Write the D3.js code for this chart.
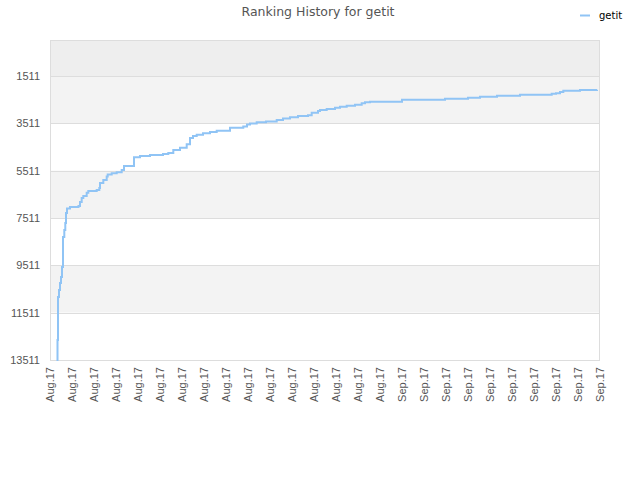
<!DOCTYPE html>
<html><head><meta charset="utf-8">
<script src="https://cdn.jsdelivr.net/npm/d3@7"></script>
<style>body{margin:0;background:#fff}</style>
</head><body>
<svg id="c" width="640" height="480"></svg>
<script>
const seriesName = "getit";
const xLabels = ["Aug.17","Aug.17","Aug.17","Aug.17","Aug.17","Aug.17","Aug.17","Aug.17","Aug.17","Aug.17","Aug.17","Aug.17","Aug.17","Aug.17","Aug.17","Aug.17",
  "Sep.17","Sep.17","Sep.17","Sep.17","Sep.17","Sep.17","Sep.17","Sep.17","Sep.17","Sep.17"];
const yTicks = [1511,3511,5511,7511,9511,11511,13511];
// time position (in label steps) and rank
const times = [0.295,0.341,0.364,0.409,0.455,0.5,0.545,0.591,0.65,0.695,0.727,0.773,0.909,1.295,1.364,1.441,1.514,1.668,1.741,2.123,2.241,2.273,2.423,2.577,2.623,2.805,3.032,3.259,3.364,3.818,4.091,4.545,5.136,5.377,5.605,5.909,6.214,6.364,6.5,6.668,6.955,7.273,7.577,8.182,8.786,8.955,9.091,9.395,9.818,10.305,10.591,10.909,11.273,11.727,11.895,12.182,12.273,12.577,12.955,13.182,13.486,13.864,14.168,14.318,14.545,16,17.955,19,19.545,20.318,21.364,22.805,23,23.182,23.332,24.091,24.864];
const ranks = [13511,12666,10849,10553,10258,10004,9582,8314,8018,7722,7300,7110,7046,7004,6835,6666,6581,6442,6370,6328,6243,6032,5905,5758,5673,5622,5580,5483,5314,4946,4891,4849,4807,4765,4638,4541,4397,4131,4046,3991,3932,3877,3822,3696,3645,3560,3518,3467,3434,3370,3307,3256,3201,3172,3062,2990,2948,2905,2850,2808,2766,2724,2665,2622,2601,2512,2470,2428,2386,2343,2301,2263,2238,2187,2132,2103,2090];

const svg = d3.select("#c");
const L = 50, R = 600, T = 40, B = 360;
const x = d3.scaleLinear().domain([0, xLabels.length - 1]).range([L, R]);
const y = d3.scaleLinear().domain([-11, 13511]).range([T, B]);

// bands
const bandEdges = [y.domain()[0], ...yTicks];
for (let i = 0; i < bandEdges.length - 1; i++) {
  const fill = i === 0 ? "#eeeeee" : (i % 2 === 1 ? "#f3f3f3" : "#ffffff");
  svg.append("rect").attr("x", L).attr("width", R - L)
    .attr("y", y(bandEdges[i])).attr("height", y(bandEdges[i + 1]) - y(bandEdges[i]))
    .attr("fill", fill);
}
// grid lines
svg.append("g").selectAll("line").data(yTicks).join("line")
  .attr("x1", L).attr("x2", R).attr("y1", d => Math.round(y(d)) + 0.5).attr("y2", d => Math.round(y(d)) + 0.5)
  .attr("stroke", "#dddddd").attr("stroke-width", 1);
// border
svg.append("rect").attr("x", L + 0.5).attr("y", T + 0.5).attr("width", R - L - 1).attr("height", B - T)
  .attr("fill", "none").attr("stroke", "#dddddd");

// y axis
const yAxis = d3.axisLeft(y).tickValues(yTicks).tickFormat(d3.format("d")).tickSize(0).tickPadding(10);
const gy = svg.append("g").attr("transform", `translate(${L},0)`).call(yAxis);
gy.select(".domain").remove();
gy.selectAll("text").attr("font-family", "Liberation Sans, Arial, sans-serif").attr("font-size", 11).attr("fill", "#555");

// x axis
const xAxis = d3.axisBottom(x).tickValues(d3.range(xLabels.length)).tickFormat(i => xLabels[i]).tickSize(0);
const gx = svg.append("g").attr("transform", `translate(0,${B})`).call(xAxis);
gx.select(".domain").remove();
gx.selectAll("text")
  .attr("font-family", "Liberation Sans, Arial, sans-serif").attr("font-size", 11).attr("fill", "#555")
  .attr("text-anchor", "end").attr("dy", "0.35em")
  .attr("transform", "translate(0,7) rotate(-90)").attr("x", 0).attr("y", 0);

// line
const data = times.map((t, i) => ({t, r: ranks[i]}));
const line = d3.line().x(d => x(d.t)).y(d => y(d.r)).curve(d3.curveStepAfter);
svg.append("path").datum(data).attr("d", line)
  .attr("fill", "none").attr("stroke", "#90c4f5").attr("stroke-width", 2);

// title
svg.append("text").attr("x", 318).attr("y", 16).attr("text-anchor", "middle")
  .attr("font-family", "DejaVu Sans, sans-serif").attr("font-size", 12.5).attr("fill", "#555")
  .text("Ranking History for " + seriesName);

// legend
svg.append("line").attr("x1", 580).attr("x2", 590).attr("y1", 15.5).attr("y2", 15.5)
  .attr("stroke", "#90c4f5").attr("stroke-width", 2);
svg.append("text").attr("x", 599).attr("y", 19).attr("font-family", "DejaVu Sans, sans-serif")
  .attr("font-size", 10).attr("fill", "#000").text(seriesName);
</script>
</body></html>
